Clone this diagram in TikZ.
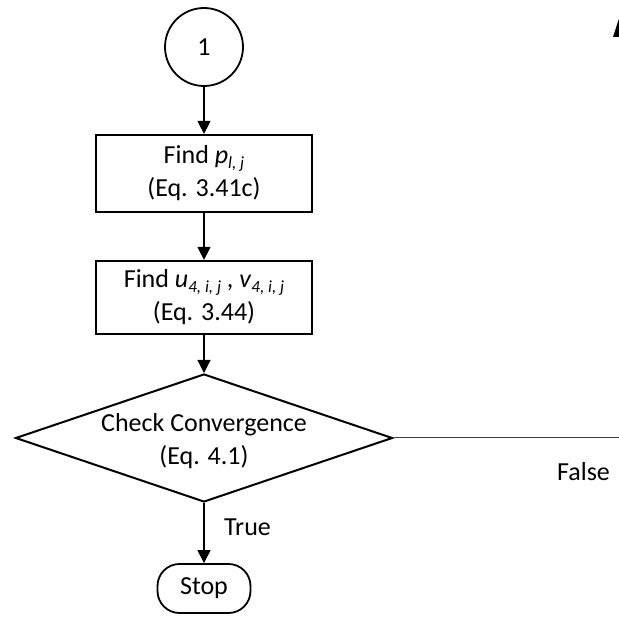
\documentclass[tikz,border=0pt]{standalone}
\usepackage{fontspec}
\setmainfont{Carlito}
\usetikzlibrary{arrows.meta,shapes.geometric}
% italic symbol with a lowered, smaller italic index
\newcommand{\idxsym}[2]{\textit{#1}\raisebox{-0.35ex}{\fontsize{17}{17}\selectfont\textit{#2}}}
\begin{document}
\begin{tikzpicture}[x=1pt,y=-1pt,
  every node/.style={font=\fontsize{26}{33}\selectfont},
  conn/.style={draw=black, line width=1.1pt, -{Triangle[width=13pt,length=13pt]}},
  procbox/.style={draw, line width=2.2pt, minimum width=216pt, inner sep=0pt, align=center},
  connector/.style={draw, circle, line width=1.8pt, minimum size=78pt, inner sep=0pt},
  decision/.style={draw, diamond, line width=2pt, minimum width=377pt, minimum height=128pt, inner sep=0pt},
  terminal/.style={draw, rounded corners=22pt, line width=1.8pt, minimum width=93pt, minimum height=49pt, inner sep=0pt}
]
\useasboundingbox (0,0) rectangle (619,617);

% flow nodes
\node[connector] (c1) at (204,47) {1};
\node[procbox, minimum height=77pt] (b1) at (204,173.5) {Find \idxsym{p}{l, j}\\(Eq. 3.41c)};
\node[procbox, minimum height=73pt] (b2) at (204,297.5) {Find \idxsym{u}{4, i, j} , \idxsym{v}{4, i, j}\\(Eq. 3.44)};
\node[decision] (dec) at (204,438) {};
\node[align=center] (dectext) at (204,441.5) {Check Convergence\\(Eq. 4.1)};
\node[terminal] (stop) at (204,588.5) {Stop};

% connectors
\draw[conn] (c1.south) -- (b1.north);
\draw[conn] (b1.south) -- (b2.north);
\draw[conn] (b2.south) -- (dec.north);
\draw[conn] (dec.south) -- (stop.north);
\node (truelbl) at (247.5,527) {True};

\coordinate (falseend) at (619,438);
\draw[black!75, line width=1pt] (dec.east) -- (falseend);
\node (falselbl) at (583.5,472) {False};

% arrowhead of the return path at the right edge
\fill (613,37) -- (619.5,17) -- (626,37) -- cycle;
\end{tikzpicture}
\end{document}
